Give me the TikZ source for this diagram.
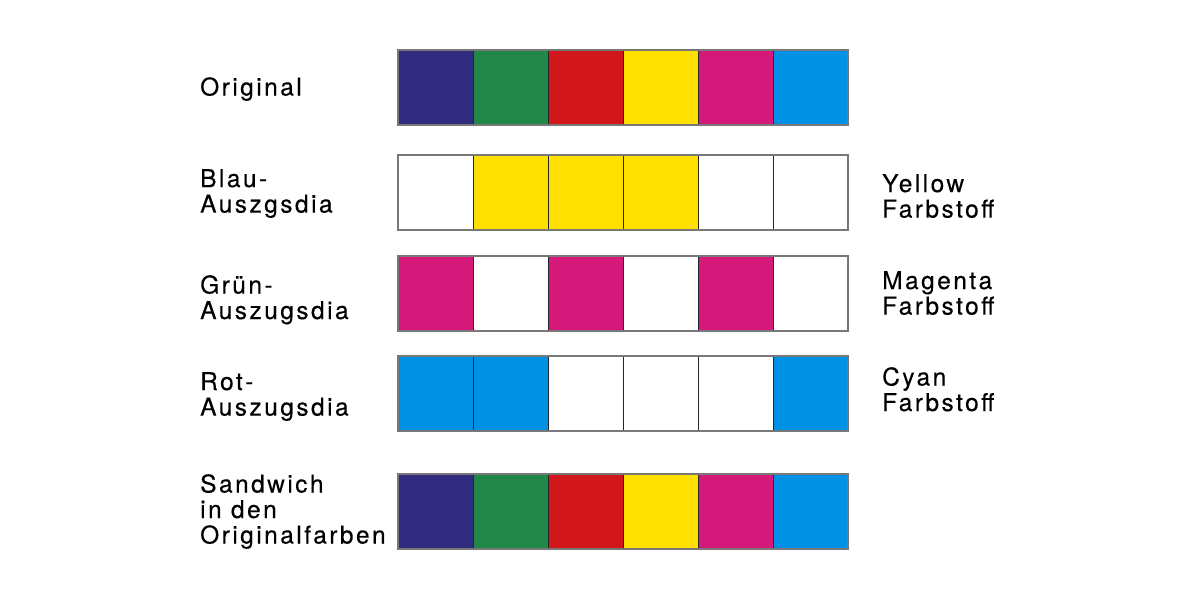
\documentclass[tikz,border=0pt]{standalone}
\usepackage{fontspec}
\setmainfont{TeX Gyre Heros}[LetterSpace=10, FakeBold=0.3]
\definecolor{violetcolor}{RGB}{51, 43, 128}
\definecolor{greencolor}{RGB}{33, 136, 74}
\definecolor{redcolor}{RGB}{209, 23, 25}
\definecolor{yellowcolor}{RGB}{255, 224, 0}
\definecolor{magentacolor}{RGB}{213, 25, 122}
\definecolor{cyancolor}{RGB}{0, 145, 229}
\definecolor{framecolor}{RGB}{120, 120, 120}
\begin{document}
\begin{tikzpicture}[x=1pt, y=-1pt]
    % Define styles
    \tikzstyle{cell} = [rectangle, minimum width=75pt, minimum height=75pt, inner sep=0pt, outer sep=0pt, anchor=north west, draw=black!85, line width=0.8pt]
    \tikzstyle{frame} = [draw=framecolor, line width=1.3pt]
    \tikzstyle{label} = [align=left, anchor=north west, inner sep=0pt, font=\fontsize{24.5}{25.5}\selectfont]
    \useasboundingbox (0,0) rectangle (1200,600);

    % Rows of colour cells
    \foreach \rowname/\rowtop/\colours in {
        orig/50/{violetcolor,greencolor,redcolor,yellowcolor,magentacolor,cyancolor},
        blau/155/{white,yellowcolor,yellowcolor,yellowcolor,white,white},
        gruen/256/{magentacolor,white,magentacolor,white,magentacolor,white},
        rot/356/{cyancolor,cyancolor,white,white,white,cyancolor},
        sandwich/474/{violetcolor,greencolor,redcolor,yellowcolor,magentacolor,cyancolor}} {
        \foreach \fillc [count=\i] in \colours
            \node [cell, fill=\fillc] (\rowname-\i) at ({398+75*(\i-1)}, \rowtop) {};
        \draw [frame] (\rowname-1.north west) rectangle (\rowname-6.south east);
    }

    % Labels on the left
    \node [label] (original) at (200,77) {Original};
    \node [label] (blaulabel) at (200,169) {Blau-\\Auszgsdia};
    \node [label] (gruenlabel) at (200,275) {Grün-\\Auszugsdia};
    \node [label] (rotlabel) at (200,372) {Rot-\\Auszugsdia};
    \node [label] (sandwichlabel) at (200,474) {Sandwich\\in den\\Originalfarben};

    % Labels on the right
    \node [label] (yellow) at (882,174) {Yellow\\Farbstoff};
    \node [label] (magenta) at (882,271) {Magenta\\Farbstoff};
    \node [label] (cyan) at (882,367) {Cyan\\Farbstoff};
\end{tikzpicture}
\end{document}
